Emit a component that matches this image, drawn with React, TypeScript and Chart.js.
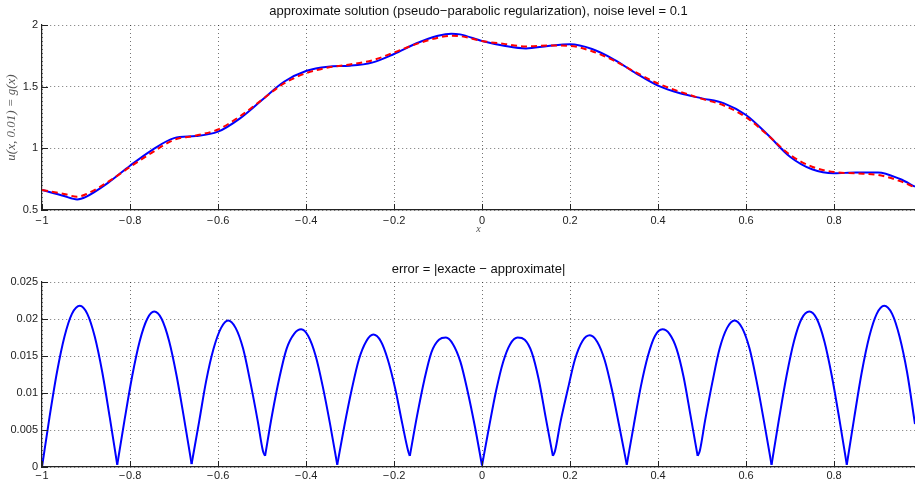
import React, { useEffect, useRef } from "react";
import { Chart, registerables } from "chart.js";
Chart.register(...registerables);

// ---- top panel: exact vs approximate solution ----
const topX = [-1, -0.95, -0.92, -0.9, -0.85, -0.8, -0.75, -0.7, -0.65, -0.6, -0.55, -0.5, -0.45, -0.4, -0.35, -0.3, -0.25, -0.2, -0.15, -0.1, -0.07, -0.05, 0, 0.05, 0.1, 0.15, 0.2, 0.25, 0.3, 0.35, 0.4, 0.45, 0.5, 0.55, 0.6, 0.65, 0.7, 0.75, 0.8, 0.85, 0.9, 0.95, 0.984];
const exactU = [0.662, 0.613, 0.586, 0.607, 0.72, 0.859, 0.986, 1.083, 1.10, 1.135, 1.243, 1.392, 1.54, 1.627, 1.662, 1.67, 1.695, 1.765, 1.85, 1.913, 1.93, 1.924, 1.87, 1.832, 1.81, 1.83, 1.843, 1.805, 1.72, 1.608, 1.508, 1.446, 1.405, 1.365, 1.27, 1.108, 0.932, 0.83, 0.797, 0.805, 0.805, 0.751, 0.689];
const approxU = [0.662, 0.630, 0.608, 0.628, 0.728, 0.849, 0.965, 1.069, 1.104, 1.153, 1.260, 1.394, 1.526, 1.609, 1.655, 1.680, 1.713, 1.777, 1.845, 1.897, 1.913, 1.910, 1.870, 1.847, 1.826, 1.834, 1.831, 1.787, 1.711, 1.615, 1.526, 1.459, 1.401, 1.347, 1.252, 1.105, 0.947, 0.851, 0.808, 0.797, 0.784, 0.734, 0.683];

// ---- bottom panel: error ----
const errX = [
  -1, -0.983, -0.966, -0.949, -0.932, -0.914, -0.897, -0.880, -0.863, -0.846, -0.829,
  -0.812, -0.795, -0.778, -0.761, -0.745, -0.728, -0.711, -0.694, -0.677, -0.660,
  -0.643, -0.627, -0.610, -0.593, -0.577, -0.560, -0.543, -0.527, -0.510, -0.498, -0.493,
  -0.477, -0.460, -0.444, -0.427, -0.411, -0.395, -0.378, -0.362, -0.345, -0.329,
  -0.313, -0.296, -0.280, -0.263, -0.247, -0.230, -0.214, -0.197, -0.181, -0.168, -0.164,
  -0.148, -0.131, -0.115, -0.098, -0.082, -0.066, -0.049, -0.033, -0.016, 0,
  0.016, 0.032, 0.048, 0.064, 0.081, 0.097, 0.113, 0.129, 0.145, 0.161,
  0.166, 0.178, 0.195, 0.211, 0.228, 0.245, 0.262, 0.279, 0.295, 0.312, 0.329,
  0.345, 0.361, 0.377, 0.393, 0.410, 0.426, 0.442, 0.458, 0.474, 0.490,
  0.495, 0.507, 0.524, 0.540, 0.557, 0.574, 0.591, 0.608, 0.624, 0.641, 0.658,
  0.675, 0.692, 0.709, 0.726, 0.744, 0.761, 0.778, 0.795, 0.812, 0.829,
  0.846, 0.863, 0.880, 0.897, 0.914, 0.932, 0.949, 0.966, 0.984,
];
const errY = [
  0, 0.0067, 0.0128, 0.0176, 0.0207, 0.0218, 0.0207, 0.0176, 0.0128, 0.0067, 0.0003,
  0.0065, 0.0123, 0.0170, 0.0200, 0.0210, 0.0200, 0.0170, 0.0123, 0.0065, 0.0004,
  0.0061, 0.0116, 0.0160, 0.0188, 0.0198, 0.0188, 0.0160, 0.0116, 0.0063, 0.0022, 0.0015,
  0.0071, 0.0122, 0.0160, 0.0180, 0.0186, 0.0177, 0.0150, 0.0109, 0.0057, 0.0003,
  0.0055, 0.0105, 0.0145, 0.0170, 0.0179, 0.0170, 0.0145, 0.0105, 0.0058, 0.0022, 0.0015,
  0.0068, 0.0118, 0.0155, 0.0172, 0.0175, 0.0166, 0.0142, 0.0103, 0.0054, 0.0002,
  0.0054, 0.0103, 0.0142, 0.0166, 0.0175, 0.0172, 0.0155, 0.0118, 0.0066, 0.0015,
  0.0022, 0.0060, 0.0105, 0.0145, 0.0170, 0.0178, 0.0169, 0.0144, 0.0105, 0.0055, 0.0003,
  0.0057, 0.0109, 0.0150, 0.0177, 0.0186, 0.0180, 0.0160, 0.0122, 0.0069, 0.0015,
  0.0022, 0.0063, 0.0116, 0.0160, 0.0188, 0.0198, 0.0188, 0.0160, 0.0116, 0.0061, 0.0003,
  0.0065, 0.0123, 0.0170, 0.0200, 0.0210, 0.0200, 0.0170, 0.0123, 0.0065, 0.0003,
  0.0067, 0.0128, 0.0176, 0.0207, 0.0218, 0.0207, 0.0176, 0.0128, 0.0058,
];

// ---- ticks & labels ----
const xTicks = [-1, -0.8, -0.6, -0.4, -0.2, 0, 0.2, 0.4, 0.6, 0.8];
const topYTicks = [0.5, 1, 1.5, 2];
const errYTicks = [0, 0.005, 0.01, 0.015, 0.02, 0.025];
const topTitle = "approximate solution (pseudo\u2212parabolic regularization), noise level = 0.1";
const errTitle = "error = |exacte \u2212 approximate|";
const yLabelTop = "u(x, 0.01) = g(x)";
const xLabelTop = "x";

const FONT = "'Liberation Sans', Arial, Helvetica, sans-serif";
const SERIF = "'Liberation Serif', 'DejaVu Serif', serif";

function fmt(v: number): string {
  const s = String(parseFloat(Math.abs(v).toFixed(4)));
  return v < 0 ? "\u2212\u200A" + s : s;
}

// split the error series into arches at its local minima (each arch drawn smooth, V-shaped joins stay sharp)
function errArches() {
  const cuts = [0];
  for (let i = 1; i < errY.length - 1; i++) {
    if (errY[i] <= errY[i - 1] && errY[i] < errY[i + 1]) cuts.push(i);
  }
  cuts.push(errY.length - 1);
  const out: { x: number; y: number }[][] = [];
  for (let k = 0; k < cuts.length - 1; k++) {
    const pts: { x: number; y: number }[] = [];
    for (let i = cuts[k]; i <= cuts[k + 1]; i++) pts.push({ x: errX[i], y: errY[i] });
    out.push(pts);
  }
  return out;
}

const inwardTicks = {
  id: "inwardTicks",
  afterDraw(chart: any) {
    const { ctx, chartArea, scales } = chart;
    ctx.save();
    ctx.strokeStyle = "#222";
    ctx.lineWidth = 1;
    const xs = scales.x;
    const ys = scales.y;
    xs.ticks.forEach((t: any) => {
      const p = Math.round(xs.getPixelForValue(t.value)) + 0.5;
      ctx.beginPath();
      ctx.moveTo(p, chartArea.bottom);
      ctx.lineTo(p, chartArea.bottom - 6);
      ctx.stroke();
    });
    ys.ticks.forEach((t: any) => {
      const p = Math.round(ys.getPixelForValue(t.value)) + 0.5;
      ctx.beginPath();
      ctx.moveTo(chartArea.left, p);
      ctx.lineTo(chartArea.left + 6, p);
      ctx.stroke();
    });
    ctx.restore();
  },
};

function axisCommon(ticks: number[]) {
  return {
    type: "linear" as const,
    afterBuildTicks: (s: any) => {
      s.ticks = ticks.map((v) => ({ value: v }));
    },
    grid: { color: "rgba(0,0,0,0.55)", lineWidth: 1, drawTicks: false },
    border: { display: true, color: "#222", width: 1.2, dash: [1, 3] },
    ticks: {
      color: "#222",
      font: { family: FONT, size: 11 },
      callback: (v: any) => fmt(Number(v)),
    },
  };
}

export default function App() {
  const topRef = useRef<HTMLCanvasElement>(null);
  const botRef = useRef<HTMLCanvasElement>(null);

  useEffect(() => {
    document.body.style.margin = "0";
    const top = new Chart(topRef.current!, {
      type: "line",
      data: {
        datasets: [
          {
            data: topX.map((x, i) => ({ x, y: approxU[i] })),
            borderColor: "#ff0000",
            borderWidth: 2,
            borderDash: [6, 4],
            pointRadius: 0,
            cubicInterpolationMode: "monotone",
          },
          {
            data: topX.map((x, i) => ({ x, y: exactU[i] })),
            borderColor: "#0000ff",
            borderWidth: 2,
            pointRadius: 0,
            cubicInterpolationMode: "monotone",
          },
        ],
      },
      options: {
        animation: false,
        responsive: false,
        layout: { padding: 0 },
        plugins: {
          legend: { display: false },
          tooltip: { enabled: false },
          title: {
            display: true,
            fullSize: false,
            text: topTitle,
            color: "#111",
            font: { family: FONT, size: 13, weight: "normal" },
            padding: { top: 3.4, bottom: 6 },
          },
        },
        scales: {
          x: {
            ...axisCommon(xTicks),
            min: -1,
            max: 0.984,
            ticks: { ...axisCommon(xTicks).ticks, padding: 4, maxRotation: 0, autoSkip: false },
            title: {
              display: true,
              text: xLabelTop,
              color: "#555",
              font: { family: SERIF, size: 10, style: "italic" },
              padding: { top: 0, bottom: 5 },
            },
            afterFit: (s: any) => {
              s.height = 30;
            },
          },
          y: {
            ...axisCommon(topYTicks),
            min: 0.5,
            max: 2,
            ticks: { ...axisCommon(topYTicks).ticks, padding: 4 },
            title: {
              display: true,
              text: yLabelTop,
              color: "#555",
              font: { family: SERIF, size: 13, style: "italic" },
              padding: { top: 4.2, bottom: 0 },
            },
            afterFit: (s: any) => {
              s.width = 42;
            },
          },
        },
      },
      plugins: [inwardTicks],
    } as any);

    const bot = new Chart(botRef.current!, {
      type: "line",
      data: {
        datasets: errArches().map((pts) => ({
          data: pts,
          borderColor: "#0000ff",
          borderWidth: 2,
          pointRadius: 0,
          cubicInterpolationMode: "monotone",
        })),
      },
      options: {
        animation: false,
        responsive: false,
        layout: { padding: 0 },
        plugins: {
          legend: { display: false },
          tooltip: { enabled: false },
          title: {
            display: true,
            fullSize: false,
            text: errTitle,
            color: "#111",
            font: { family: FONT, size: 13, weight: "normal" },
            padding: { top: 21.2, bottom: 5.2 },
          },
        },
        scales: {
          x: {
            ...axisCommon(xTicks),
            min: -1,
            max: 0.984,
            ticks: { ...axisCommon(xTicks).ticks, padding: 2, maxRotation: 0, autoSkip: false },
            afterFit: (s: any) => {
              s.height = 17;
            },
          },
          y: {
            ...axisCommon(errYTicks),
            min: 0,
            max: 0.025,
            ticks: { ...axisCommon(errYTicks).ticks, padding: 4 },
            afterFit: (s: any) => {
              s.width = 42;
            },
          },
        },
      },
      plugins: [inwardTicks],
    } as any);

    return () => {
      top.destroy();
      bot.destroy();
    };
  }, []);

  return (
    <div style={{ position: "relative", width: 915, height: 484, background: "#fff" }}>
      <canvas ref={topRef} width={915} height={240} style={{ position: "absolute", left: 0, top: 0 }} />
      <canvas ref={botRef} width={915} height={244} style={{ position: "absolute", left: 0, top: 240 }} />
    </div>
  );
}
